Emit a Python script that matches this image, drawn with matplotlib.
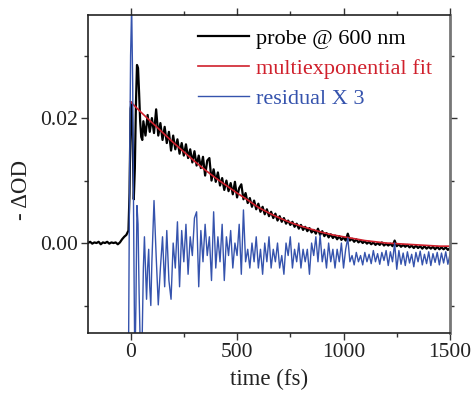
#!/usr/bin/env python3
"""Transient absorption trace at 600 nm with multiexponential fit and residual."""

import matplotlib

matplotlib.use("Agg")
import matplotlib.pyplot as plt
from matplotlib.ticker import MultipleLocator, FormatStrFormatter

# probe @ 600 nm (-dOD)
t_probe = list(range(-200, -10, 10)) + list(range(-10, 60, 5)) + list(range(60, 1501, 10))
probe = [
    # -200 .. -20
    0.0000, 0.0002, -0.0001, 0.0001, 0.0000, 0.0002, -0.0002, 0.0001, 0.0000, 0.0002,
    -0.0001, 0.0001, 0.0000, 0.0001, -0.0002, 0.0001, 0.0006, 0.0010, 0.0013,
    # -10 .. 55 (5 fs)
    0.0020, 0.0080, 0.0215, 0.0225, 0.0160, 0.0070, 0.0120, 0.0220, 0.0285, 0.0280,
    0.0240, 0.0195, 0.0170, 0.0165,
    # 60 .. 1500
    0.0195, 0.0172, 0.0205, 0.0178, 0.0200, 0.0176, 0.0214, 0.0172, 0.0192, 0.0165,
    0.0186, 0.0160, 0.0178, 0.0148, 0.0172, 0.0150, 0.0166, 0.0143, 0.0160, 0.0140,
    0.0158, 0.0136, 0.0150, 0.0129, 0.0147, 0.0124, 0.0140, 0.0120, 0.0138, 0.0108,
    0.0132, 0.0136, 0.0100, 0.0118, 0.0098, 0.0113, 0.0092, 0.0104, 0.0085, 0.0100,
    0.0083, 0.0096, 0.0078, 0.0098, 0.0073, 0.0088, 0.0094, 0.0070, 0.0080, 0.0064,
    0.0072, 0.0058, 0.0068, 0.0054, 0.0063, 0.0050, 0.0058, 0.0046, 0.0054, 0.0043,
    0.0050, 0.0040, 0.0047, 0.0036, 0.0043, 0.0034, 0.0040, 0.0031, 0.0036, 0.0029,
    0.0034, 0.0026, 0.0031, 0.0023, 0.0029, 0.0021, 0.0026, 0.0019, 0.0024, 0.0017,
    0.0021, 0.0015, 0.0023, 0.0013, 0.0019, 0.0011, 0.0016, 0.0009, 0.0014, 0.0008,
    0.0012, 0.0006, 0.0011, 0.0005, 0.0009, 0.0004, 0.0015, 0.0004, 0.0007, 0.0002,
    0.0006, 0.0001, 0.0004, 0.0000, 0.0003, -0.0001, 0.0002, -0.0002, 0.0001, -0.0003,
    0.0000, -0.0003, 0.0001, -0.0004, -0.0001, -0.0004, -0.0001, -0.0005, 0.0004, -0.0005,
    -0.0002, -0.0006, -0.0003, -0.0006, -0.0003, -0.0007, -0.0004, -0.0008, -0.0004, -0.0008,
    -0.0005, -0.0009, -0.0005, -0.0009, -0.0006, -0.0009, -0.0006, -0.0010, -0.0006, -0.0010,
    -0.0007, -0.0010, -0.0007, -0.0011, -0.0008,
]

# multiexponential fit
t_fit = list(range(0, 1501, 50))
fit = [
    0.0226, 0.0209, 0.0193, 0.0177, 0.0161, 0.0146, 0.0131, 0.0117, 0.0104, 0.0092,
    0.0080, 0.0069, 0.0057, 0.0048, 0.0040, 0.0033, 0.0027, 0.0022, 0.0017, 0.0013,
    0.0010, 0.0007, 0.0004, 0.0002, 0.0000, -0.0001, -0.0002, -0.0003, -0.0004, -0.0005,
    -0.0005,
]

# residual x 3
t_resid = list(range(-10, 100, 5)) + list(range(100, 1501, 10))
resid = [
    # -10 .. 95 (5 fs)
    -0.020, 0.010, 0.030, 0.038, 0.025, 0.000, -0.020, -0.010, 0.006, 0.003,
    -0.008, -0.016, -0.020, -0.014, -0.004, 0.001, -0.004, -0.009, -0.004, -0.001,
    -0.007, -0.010,
    # 100 .. 1500
    -0.003, 0.0068, -0.002, -0.0099, -0.004, 0.001, -0.007, 0.002, -0.006, -0.009,
    0.000, -0.004, 0.0034, -0.007, 0.002, -0.003, 0.003, -0.005, 0.001, -0.002,
    0.004, 0.005, -0.007, 0.002, -0.003, 0.003, -0.002, 0.001, -0.006, 0.005,
    -0.004, 0.001, -0.003, 0.003, -0.006, 0.001, -0.002, 0.002, -0.004, 0.000,
    -0.002, 0.003, -0.005, 0.0053, -0.003, -0.001, -0.004, 0.000, -0.003, 0.001,
    -0.004, -0.001, -0.005, 0.000, -0.003, 0.001, -0.004, -0.001, -0.003, 0.000,
    -0.004, -0.002, -0.005, 0.000, -0.002, 0.001, -0.004, -0.001, -0.003, 0.000,
    -0.004, -0.001, -0.003, -0.001, -0.005, 0.000, -0.002, 0.001, -0.003, 0.0013,
    -0.003, -0.001, -0.004, 0.000, -0.003, -0.001, -0.004, -0.001, -0.003, 0.000,
    -0.004, -0.001, 0.0008, -0.003, -0.002, -0.0035, -0.0015, -0.003, -0.002, -0.0035,
    -0.0015, -0.003, -0.0018, -0.0033, -0.0012, -0.003, -0.0017, -0.0034, -0.0015, -0.0028,
    -0.0012, -0.0036, -0.0014, -0.003, 0.0000, -0.0042, -0.0012, -0.0034, -0.0016, -0.0036,
    -0.0014, -0.0032, -0.0018, -0.0038, -0.0015, -0.0030, -0.0013, -0.0035, -0.0018, -0.0033,
    -0.0014, -0.0036, -0.0017, -0.0031, -0.0015, -0.0035, -0.0016, -0.0032, -0.0014, -0.0034,
    -0.0018,
]

assert len(t_probe) == len(probe)
assert len(t_fit) == len(fit)
assert len(t_resid) == len(resid)

RED = "#d0202c"
BLUE = "#3553ad"


def main() -> int:
    plt.rcParams["font.family"] = ["Liberation Serif", "DejaVu Serif"]

    fig = plt.figure(figsize=(4.72, 4.0), dpi=100)
    ax = fig.add_axes([88 / 472, 67 / 400, 362 / 472, 318 / 400])

    ax.plot(t_probe, probe, color="black", lw=1.6, label="probe @ 600 nm")
    ax.plot(t_fit, fit, color=RED, lw=1.2, label="multiexponential fit")
    ax.plot(t_resid, resid, color=BLUE, lw=1.0, label="residual X 3")

    ax.set_xlim(-200, 1500)
    ax.set_ylim(-0.0144, 0.0365)
    ax.xaxis.set_major_locator(MultipleLocator(500))
    ax.xaxis.set_minor_locator(MultipleLocator(250))
    ax.yaxis.set_major_locator(MultipleLocator(0.02))
    ax.yaxis.set_minor_locator(MultipleLocator(0.01))
    ax.yaxis.set_major_formatter(FormatStrFormatter("%.2f"))
    ax.tick_params(which="both", direction="out", top=True, right=True,
                   labelsize=15.5, width=1.0, colors="#333333", labelcolor="#222222")
    ax.tick_params(which="major", length=5, pad=2)
    ax.tick_params(which="minor", length=3)
    for side in ("left", "bottom", "top"):
        ax.spines[side].set_linewidth(1.2)
        ax.spines[side].set_color("#222222")
    ax.spines["right"].set_linewidth(2.0)
    ax.spines["right"].set_color("#777777")

    ax.set_xlabel("time (fs)", fontsize=16.5, color="#222222", labelpad=5)
    ax.set_ylabel("- ΔOD", fontsize=16.5, color="#222222")
    ax.yaxis.set_label_coords(-0.155, 0.45)

    leg = ax.legend(loc="upper right", bbox_to_anchor=(0.975, 0.985), frameon=False,
                    fontsize=16, handlelength=2.3, handletextpad=0.3,
                    labelspacing=0.42, borderaxespad=0.0)
    for text, col in zip(leg.get_texts(), ["black", RED, BLUE]):
        text.set_color(col)

    fig.savefig("out.png", dpi=100)
    plt.close(fig)
    return 0


if __name__ == "__main__":
    raise SystemExit(main())
